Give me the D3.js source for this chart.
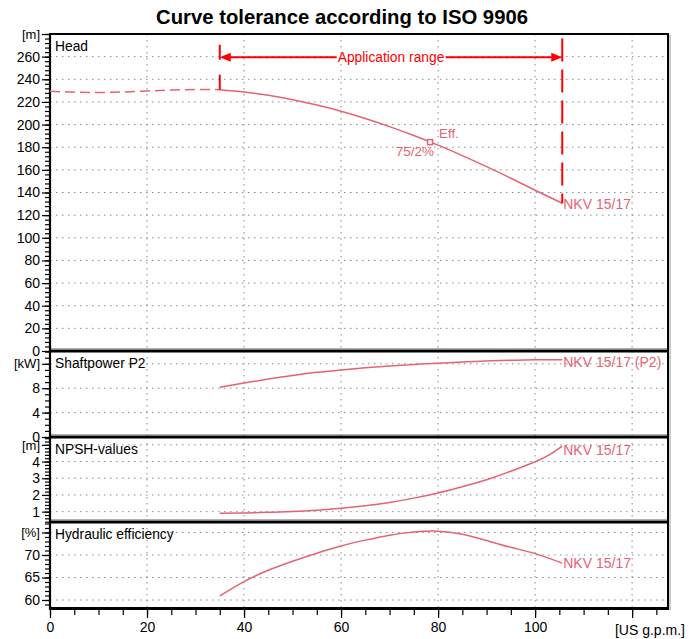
<!DOCTYPE html>
<html><head><meta charset="utf-8">
<script src="https://cdn.jsdelivr.net/npm/d3@7"></script>
<style>
body{margin:0;background:#fff}
text{font-family:"Liberation Sans",Arial,sans-serif}
</style>
</head><body>
<svg id="c" width="697" height="639"></svg>
<script>
// ---------- data ----------
const title = "Curve tolerance according to ISO 9906";
const xTickLabels = [0, 20, 40, 60, 80, 100];
const xUnit = "[US g.p.m.]";

// head below application range (dashed)
const headLowQ = [0, 5, 10, 15, 20, 25, 30, 35];
const headLowH = [229.5, 228.6, 228.3, 228.8, 229.7, 230.5, 231.0, 230.8];
// head in application range
const headQ = [35, 40, 45, 50, 55, 60, 65, 70, 75, 80, 85, 90, 95, 100, 105.6];
const headH = [230.8, 228.8, 225.8, 221.9, 217.2, 211.8, 205.4, 198.2, 190.3, 181.8, 172.6, 162.8, 152.6, 142.0, 130.5];

const flowQ = [35, 40, 45, 50, 55, 60, 65, 70, 75, 80, 85, 90, 95, 100, 105.6];
const powerP2 = [8.15, 8.85, 9.5, 10.1, 10.6, 11.0, 11.35, 11.65, 11.9, 12.1, 12.3, 12.47, 12.58, 12.65, 12.67];
const efficiency = [60.9, 64.1, 66.6, 68.6, 70.4, 72.0, 73.3, 74.4, 75.1, 75.3, 74.6, 73.2, 71.7, 70.3, 68.2];
const npshQ = [35, 40, 45, 50, 55, 60, 65, 70, 75, 80, 85, 90, 95, 100, 103, 105.6];
const npsh = [0.9, 0.92, 0.96, 1.01, 1.09, 1.2, 1.35, 1.55, 1.81, 2.12, 2.49, 2.91, 3.42, 3.99, 4.42, 4.93];

const bepQ = 78.35, bepH = 184.5;
const bepLabel = "Eff.", bepValue = "75/2%";
const appRange = [35, 105.6];
const appLabel = "Application range";
const pumpLabel = "NKV 15/17";
const powerLabel = "NKV 15/17 (P2)";

const headTicks = [0, 20, 40, 60, 80, 100, 120, 140, 160, 180, 200, 220, 240, 260];
const powerTicks = [0, 4, 8];
const npshTicks = [1, 2, 3, 4];
const effTicks = [60, 65, 70];

// ---------- layout ----------
const svg = d3.select("#c");
const L = 50, R = 668;
const curveCol = "#e46473", redCol = "#ff0000";
const x = d3.scaleLinear().domain([0, 127.4]).range([L, R]);

svg.append("text").attr("x", 342).attr("y", 24).attr("text-anchor", "middle")
  .attr("font-size", 20.3).attr("font-weight", "bold").text(title);

const panels = [
  {title: "Head", top: 34, bot: 351, dom: [0, 280], ticks: headTicks, unitVal: 280, unit: "[m]", minor: d3.range(0, 281, 4)},
  {title: "Shaftpower P2", top: 351, bot: 437, dom: [0, 14.1], ticks: powerTicks, unitVal: 12, unit: "[kW]", minor: d3.range(0, 14.01, 1)},
  {title: "NPSH-values", top: 437, bot: 522, dom: [0.38, 5.47], ticks: npshTicks, unitVal: 5, unit: "[m]", minor: d3.range(0.4, 5.41, 0.2)},
  {title: "Hydraulic efficiency", top: 522, bot: 608, dom: [58.22, 77.33], ticks: effTicks, unitVal: 75, unit: "[%]", minor: d3.range(59, 77.01, 1)}
];
panels.forEach(p => { p.y = d3.scaleLinear().domain(p.dom).range([p.bot, p.top]); });

const grid = svg.append("g");
panels.forEach(p => {
  const g = grid.append("g");
  g.selectAll("line.v").data([20, 40, 60, 80, 100, 120]).join("line")
    .attr("x1", d => x(d)).attr("x2", d => x(d)).attr("y1", p.top).attr("y2", p.bot)
    .attr("stroke", "#8a8a8a").attr("stroke-width", 1).attr("stroke-dasharray", "1.5,4.5");
  const hv = p.ticks.concat([p.unitVal]).filter(v => p.y(v) > p.top + 2 && p.y(v) < p.bot - 2);
  g.selectAll("line.h").data(hv).join("line")
    .attr("x1", L).attr("x2", R).attr("y1", d => p.y(d)).attr("y2", d => p.y(d))
    .attr("stroke", "#8a8a8a").attr("stroke-width", 1).attr("stroke-dasharray", "1.5,4.5");
});

// y axes
panels.forEach(p => {
  const minorAx = d3.axisLeft(p.y).tickValues(p.minor).tickSize(5).tickFormat("");
  svg.append("g").attr("transform", `translate(${L},0)`).call(minorAx)
    .call(g => g.select(".domain").remove())
    .call(g => g.selectAll("line").attr("stroke", "#000").attr("stroke-width", 1.2));
  const vals = p.ticks.concat([p.unitVal]);
  const majorAx = d3.axisLeft(p.y).tickValues(vals).tickSize(8).tickPadding(2)
    .tickFormat(d => d === p.unitVal ? p.unit : d);
  svg.append("g").attr("transform", `translate(${L},0)`).call(majorAx)
    .call(g => g.select(".domain").remove())
    .call(g => g.selectAll("line").attr("stroke", "#000").attr("stroke-width", 1.2))
    .call(g => g.selectAll("text").attr("font-size", d => d === p.unitVal ? 13 : 14).attr("fill", "#000")
      .attr("font-family", "'Liberation Sans',Arial,sans-serif"));
  svg.append("text").attr("x", 55).attr("y", p.top + 17).attr("font-size", 13.8).text(p.title);
});

// x axis
const xMinor = d3.axisBottom(x).tickValues(d3.range(0, 126, 5)).tickSize(6).tickFormat("");
svg.append("g").attr("transform", "translate(0,609)").call(xMinor)
  .call(g => g.select(".domain").remove())
  .call(g => g.selectAll("line").attr("stroke", "#000").attr("stroke-width", 1.2));
const xMajor = d3.axisBottom(x).tickValues([0, 20, 40, 60, 80, 100, 120]).tickSize(9).tickPadding(4)
  .tickFormat(d => xTickLabels.includes(d) ? d : "");
svg.append("g").attr("transform", "translate(0,609)").call(xMajor)
  .call(g => g.select(".domain").remove())
  .call(g => g.selectAll("line").attr("stroke", "#000").attr("stroke-width", 1.2))
  .call(g => g.selectAll("text").attr("font-size", 14).attr("fill", "#000")
    .attr("font-family", "'Liberation Sans',Arial,sans-serif"));
svg.append("text").attr("x", 685).attr("y", 635).attr("text-anchor", "end").attr("font-size", 14).text(xUnit);

// frames
svg.append("line").attr("x1", R + 2).attr("x2", R + 2).attr("y1", 35).attr("y2", 610)
  .attr("stroke", "#9a9a9a").attr("stroke-width", 1);
svg.append("line").attr("x1", L).attr("x2", R).attr("y1", 34).attr("y2", 34).attr("stroke", "#000").attr("stroke-width", 2);
[351, 437, 522].forEach(yy => {
  svg.append("line").attr("x1", L).attr("x2", R).attr("y1", yy).attr("y2", yy).attr("stroke", "#000").attr("stroke-width", 3);
  svg.append("line").attr("x1", L).attr("x2", R).attr("y1", yy - 2.5).attr("y2", yy - 2.5).attr("stroke", "#b0b0b0").attr("stroke-width", 1);
});
svg.append("line").attr("x1", L).attr("x2", R + 1).attr("y1", 608.5).attr("y2", 608.5).attr("stroke", "#000").attr("stroke-width", 3);
svg.append("line").attr("x1", R).attr("x2", R).attr("y1", 33).attr("y2", 610).attr("stroke", "#000").attr("stroke-width", 2);
svg.append("line").attr("x1", L).attr("x2", L).attr("y1", 33).attr("y2", 610).attr("stroke", "#000").attr("stroke-width", 2.2);

// curves
const [hp, pp, np, ep] = panels;
const mk = (ys) => d3.line().x(d => x(d[0])).y(d => ys(d[1])).curve(d3.curveNatural);
const plot = svg.append("g").attr("fill", "none").attr("stroke", curveCol).attr("stroke-width", 1.5);
plot.append("path").attr("d", mk(hp.y)(d3.zip(headLowQ, headLowH))).attr("stroke-dasharray", "10,5");
plot.append("path").attr("d", mk(hp.y)(d3.zip(headQ, headH)));
plot.append("path").attr("d", mk(pp.y)(d3.zip(flowQ, powerP2)));
plot.append("path").attr("d", mk(np.y)(d3.zip(npshQ, npsh)));
plot.append("path").attr("d", mk(ep.y)(d3.zip(flowQ, efficiency)));

// BEP marker
svg.append("rect").attr("x", x(bepQ) - 2.5).attr("y", hp.y(bepH) - 2.5).attr("width", 5).attr("height", 5)
  .attr("fill", "#fff").attr("stroke", curveCol).attr("stroke-width", 1.5);
svg.append("text").attr("x", x(bepQ) + 9).attr("y", hp.y(bepH) - 4).attr("font-size", 13.5).attr("fill", curveCol).text(bepLabel);
svg.append("text").attr("x", x(bepQ) + 4).attr("y", hp.y(bepH) + 14).attr("text-anchor", "end").attr("font-size", 13.5).attr("fill", curveCol).text(bepValue);

// curve labels
const qe = flowQ[flowQ.length - 1];
const lab = (t, yy) => svg.append("text").attr("x", x(qe) + 1).attr("y", yy).attr("font-size", 14).attr("fill", curveCol).text(t);
lab(pumpLabel, hp.y(headH[headH.length - 1]) + 6);
lab(powerLabel, pp.y(powerP2[powerP2.length - 1]) + 7);
lab(pumpLabel, np.y(npsh[npsh.length - 1]) + 9);
lab(pumpLabel, ep.y(efficiency[efficiency.length - 1]) + 5);

// application range
const ay = hp.y(259.5);
const xa = x(appRange[0]), xb = x(appRange[1]);
svg.append("line").attr("x1", xa).attr("x2", xa).attr("y1", hp.y(270.5)).attr("y2", hp.y(headH[0]))
  .attr("stroke", redCol).attr("stroke-width", 2).attr("stroke-dasharray", "15,15");
svg.append("line").attr("x1", xb).attr("x2", xb).attr("y1", hp.y(276)).attr("y2", hp.y(headH[headH.length - 1]))
  .attr("stroke", redCol).attr("stroke-width", 2).attr("stroke-dasharray", "23,8");
svg.append("line").attr("x1", xa + 6).attr("x2", xb - 6).attr("y1", ay).attr("y2", ay).attr("stroke", redCol).attr("stroke-width", 2);
svg.append("path").attr("d", `M${xa},${ay}L${xa + 11},${ay - 4.5}L${xa + 11},${ay + 4.5}Z`).attr("fill", redCol);
svg.append("path").attr("d", `M${xb},${ay}L${xb - 11},${ay - 4.5}L${xb - 11},${ay + 4.5}Z`).attr("fill", redCol);
const bgRect = svg.append("rect").attr("fill", "#fff");
const at = svg.append("text").attr("x", (xa + xb) / 2).attr("y", ay + 5).attr("text-anchor", "middle")
  .attr("font-size", 13.8).attr("fill", redCol).text(appLabel);
const bb = at.node().getBBox();
bgRect.attr("x", bb.x - 1).attr("y", bb.y + 2).attr("width", bb.width + 2).attr("height", bb.height - 4);
</script>
</body></html>
